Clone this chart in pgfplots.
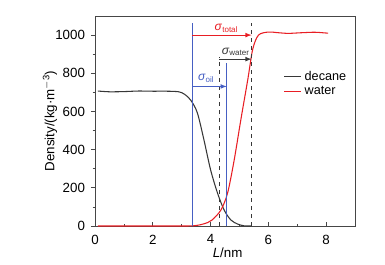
\documentclass[border=0pt]{standalone}
\usepackage{fontspec}
\setmainfont{Liberation Sans}
\usepackage{pgfplots}
\pgfplotsset{compat=1.18}
\definecolor{cred}{RGB}{232,30,36}
\definecolor{cblue}{RGB}{70,95,195}
\definecolor{cdark}{RGB}{55,55,55}
\definecolor{cframe}{RGB}{70,70,70}
\begin{document}
\begin{tikzpicture}
\path[use as bounding box] (-71.25pt,-28.5pt) rectangle (217.5pt,169.5pt);
\begin{axis}[
  scale only axis, width=195pt, height=157.5pt,
  at={(0,0)}, anchor=south west,
  xmin=0, xmax=9, ymin=0, ymax=1100,
  xtick={0,2,4,6,8}, ytick={0,200,400,600,800,1000},
  minor x tick num=1, minor y tick num=1,
  xtick pos=lower, ytick pos=left,
  tick align=outside,
  major tick length=3pt, minor tick length=1.8pt,
  every major x tick/.style={yshift=3pt},
  every minor x tick/.style={yshift=1.8pt},
  axis line style={cframe, line width=0.6pt},
  every tick/.style={cframe, line width=0.5pt},
  font=\fontsize{10}{12}\selectfont,
  /pgf/number format/assume math mode=true,
  /pgf/number format/1000 sep={},
  xticklabel style={yshift=0pt},
  yticklabel style={xshift=-1pt},
  xlabel={\textit{L}/nm},
  ylabel={Density/(kg·m\textsuperscript{$-$3})},
  xlabel style={at={(axis description cs:0.51,-0.125)}, anchor=center},
  ylabel style={at={(axis description cs:-0.173,0.5)}, anchor=center},
  legend style={at={(0.71,0.765)}, anchor=north west, draw=none, fill=none,
    font=\fontsize{9.5}{11}\selectfont, row sep=-1pt},
  legend cell align=left,
  legend image post style={xscale=0.75},
]
\addplot[cdark, line width=0.8pt, smooth] coordinates {
(0.1,707) (0.5,703) (1.0,704) (1.5,707) (2.0,706) (2.5,706) (2.9,703)
(3.1,690) (3.31,660) (3.54,594) (3.77,452) (4.0,295) (4.24,173)
(4.47,84) (4.70,32) (4.94,10) (5.16,1) (5.4,0)
};
\addlegendentry{decane}
\addplot[cred, line width=0.8pt, smooth] coordinates {
(0.1,0) (1.0,0) (2.0,0) (3.0,0) (3.4,1) (3.66,7) (3.9,18) (4.06,32) (4.36,84)
(4.59,173) (4.82,347) (5.05,558) (5.29,768) (5.46,926) (5.66,1000)
(6.0,1016) (6.3,1013) (6.68,1009) (7.1,1012) (7.6,1015) (7.9,1012) (8.07,1010)
};
\addlegendentry{water}
% boundary lines
\draw[cblue, line width=0.7pt] (axis cs:3.37,0) -- (axis cs:3.37,1063);
\draw[cblue, line width=0.7pt] (axis cs:4.56,0) -- (axis cs:4.56,853);
\draw[cdark, dashed, line width=0.6pt] (axis cs:4.29,0) -- (axis cs:4.29,884);
\draw[cdark, dashed, line width=0.6pt] (axis cs:5.42,0) -- (axis cs:5.42,1063);
% arrows
\draw[cred, -latex, line width=0.6pt] (axis cs:3.37,1000) -- (axis cs:5.42,1000);
\draw[cdark, -latex, line width=0.6pt] (axis cs:4.29,874) -- (axis cs:5.42,874);
\draw[cblue, -latex, line width=0.6pt] (axis cs:3.37,731) -- (axis cs:4.56,731);
\node[cred, font=\fontsize{9}{10}\selectfont] at (axis cs:4.55,1035) {\textit{σ}\textsubscript{total}};
\node[cdark, font=\fontsize{9}{10}\selectfont] at (axis cs:4.87,912) {\textit{σ}\textsubscript{water}};
\node[cblue, font=\fontsize{9}{10}\selectfont] at (axis cs:3.85,775) {\textit{σ}\textsubscript{oil}};
\end{axis}
\end{tikzpicture}
\end{document}
